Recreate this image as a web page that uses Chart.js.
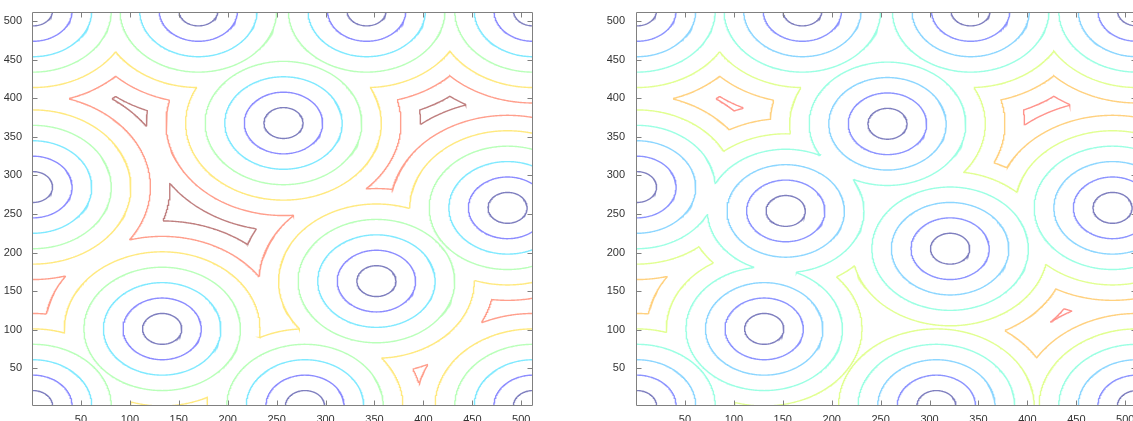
<!DOCTYPE html>
<html><head><meta charset="utf-8">
<script src="https://cdn.jsdelivr.net/npm/chart.js@4.4.1/dist/chart.umd.min.js"></script>
<style>
html,body{margin:0;padding:0;width:1133px;height:421px;overflow:hidden;background:#fff;}
#wrap{position:relative;width:1133px;height:421px;overflow:hidden;}
canvas{position:absolute;top:0;}
#c1{left:0;} #c2{left:600px;}
</style></head><body><div id="wrap"><canvas id="c1" width="540" height="421"></canvas><canvas id="c2" width="544" height="421"></canvas></div>
<script>
// ---- data ----
const xTicks = [50,100,150,200,250,300,350,400,450,500];
const yTicks = [50,100,150,200,250,300,350,400,450,500];
const contourLevels = [20,40,60,80,100,120,140];
// seed points (centres of the rings), left panel
const leftSeedX = [1,170,342,512,1,257,486,133,352,279,1,512];
const leftSeedY = [514,514,514,514,285,368,258,101,163,1,1,1];
// seed points, right panel
const rightSeedX = [1,170,342,512,1,257,487,131,153,321,307,1,512];
const rightSeedY = [514,514,514,514,285,367,258,101,254,205,1,1,1];

// ---- styles ----
const leftColors = ['rgba(0,0,128,0.5)','rgba(0,0,255,0.45)','rgba(0,212,255,0.5)','rgba(128,255,128,0.55)','rgba(255,212,0,0.5)','rgba(255,43,0,0.45)','rgba(128,0,0,0.5)'];
const rightColors = ['rgba(0,0,128,0.5)','rgba(0,18,255,0.45)','rgba(0,164,255,0.45)','rgba(55,255,200,0.5)','rgba(200,255,55,0.55)','rgba(255,164,0,0.5)','rgba(255,18,0,0.45)'];
const FONT = {family:'"Liberation Sans", Arial, Helvetica, sans-serif', size:11};

const N = 512;
function distanceField(sx, sy){
  const z = new Float32Array(N*N);
  for (let j=0;j<N;j++){
    const y=j+1;
    for (let i=0;i<N;i++){
      const x=i+1; let m=1e9;
      for (let k=0;k<sx.length;k++){
        const dx=x-sx[k], dy=y-sy[k]; const d=dx*dx+dy*dy; if(d<m)m=d;
      }
      z[j*N+i]=Math.sqrt(m);
    }
  }
  return z;
}
function contour(z, level){
  const segs=[]; const pts=new Map();
  const hK=(i,j)=>(j*N+i)*2, vK=(i,j)=>(j*N+i)*2+1;
  function pH(i,j){const k=hK(i,j); if(!pts.has(k)){const a=z[j*N+i],b=z[j*N+i+1];pts.set(k,[i+1+(level-a)/(b-a), j+1]);} return k;}
  function pV(i,j){const k=vK(i,j); if(!pts.has(k)){const a=z[j*N+i],b=z[(j+1)*N+i];pts.set(k,[i+1, j+1+(level-a)/(b-a)]);} return k;}
  for (let j=0;j<N-1;j++) for (let i=0;i<N-1;i++){
    const v0=z[j*N+i], v1=z[j*N+i+1], v2=z[(j+1)*N+i+1], v3=z[(j+1)*N+i];
    const c=(v0>level?1:0)|(v1>level?2:0)|(v2>level?4:0)|(v3>level?8:0);
    if(c===0||c===15) continue;
    const B=()=>pH(i,j), R=()=>pV(i+1,j), T=()=>pH(i,j+1), L=()=>pV(i,j);
    if(c===5||c===10){
      const ctr=(v0+v1+v2+v3)/4>level;
      if((c===5&&ctr)||(c===10&&!ctr)){segs.push([B(),R()]);segs.push([T(),L()]);}
      else {segs.push([L(),B()]);segs.push([T(),R()]);}
      continue;
    }
    const e=[];
    if(((c&1)>0)!==((c&2)>0)) e.push(B());
    if(((c&2)>0)!==((c&4)>0)) e.push(R());
    if(((c&4)>0)!==((c&8)>0)) e.push(T());
    if(((c&8)>0)!==((c&1)>0)) e.push(L());
    segs.push([e[0],e[1]]);
  }
  const adj=new Map();
  segs.forEach((s,idx)=>{for(const k of s){if(!adj.has(k))adj.set(k,[]);adj.get(k).push(idx);}});
  const used=new Uint8Array(segs.length); const out=[];
  function walk(start){const arr=[];let cur=start;for(;;){const l=adj.get(cur);let nx=-1;for(const n of l){if(!used[n]){nx=n;break;}}if(nx<0)break;used[nx]=1;const t=segs[nx];cur=t[0]===cur?t[1]:t[0];arr.push(cur);}return arr;}
  for(let s=0;s<segs.length;s++){
    if(used[s])continue; used[s]=1;
    const fw=walk(segs[s][1]); const bw=walk(segs[s][0]);
    const keys=bw.reverse().concat([segs[s][0],segs[s][1]],fw);
    out.push(keys.map(k=>pts.get(k)));
  }
  return out;
}
function buildData(sx, sy){
  const z=distanceField(sx, sy);
  return contourLevels.map(lv=>{
    const d=[];
    for(const line of contour(z, lv)){ for(const p of line) d.push({x:p[0],y:p[1]}); d.push({x:NaN,y:NaN}); }
    return d;
  });
}
const frame={id:'frame',afterDraw(chart){
  const {ctx,chartArea:a,scales:{x,y}}=chart;
  ctx.save(); ctx.strokeStyle='#808080'; ctx.lineWidth=1;
  const L=Math.round(a.left)-0.5, R=Math.round(a.right)-0.5, T=Math.round(a.top)+0.5, Bm=Math.round(a.bottom)-0.5;
  ctx.beginPath();
  ctx.moveTo(L,T);ctx.lineTo(R,T);ctx.lineTo(R,Bm);ctx.lineTo(L,Bm);ctx.closePath();
  for(const v of xTicks){const p=Math.round(x.getPixelForValue(v))+0.5; ctx.moveTo(p,Bm);ctx.lineTo(p,Bm-5);ctx.moveTo(p,T);ctx.lineTo(p,T+5);}
  for(const v of yTicks){const p=Math.round(y.getPixelForValue(v))+0.5; ctx.moveTo(L,p);ctx.lineTo(L+5,p);ctx.moveTo(R,p);ctx.lineTo(R-5,p);}
  ctx.stroke(); ctx.restore();
}};
function makeChart(id, sx, sy, colors, yAxisWidth, yPad){
  const data=buildData(sx, sy);
  return new Chart(document.getElementById(id),{
    type:'scatter',
    data:{datasets:contourLevels.map((lv,k)=>({label:String(lv),data:data[k],showLine:true,borderColor:colors[k],borderWidth:1.4,pointRadius:0,pointHoverRadius:0,fill:false,tension:0,spanGaps:false}))},
    options:{responsive:false,animation:false,events:[],devicePixelRatio:1,
      layout:{padding:{top:12,right:7,left:0,bottom:0}},
      plugins:{legend:{display:false},tooltip:{enabled:false}},
      scales:{
        x:{type:'linear',min:1,max:512,grid:{display:false},border:{display:false},
          afterBuildTicks:s=>{s.ticks=xTicks.map(v=>({value:v}));},
          afterFit:s=>{s.height=15;},
          ticks:{padding:-1,maxRotation:0,autoSkip:false,font:FONT,color:'#333'}},
        y:{type:'linear',min:1,max:512,grid:{display:false},border:{display:false},
          afterBuildTicks:s=>{s.ticks=yTicks.map(v=>({value:v}));},
          afterFit:s=>{s.width=yAxisWidth;},
          ticks:{padding:yPad,autoSkip:false,font:FONT,color:'#333'}}
      }},
    plugins:[frame]
  });
}
makeChart('c1', leftSeedX, leftSeedY, leftColors, 33, 3);
makeChart('c2', rightSeedX, rightSeedY, rightColors, 37, 4);
</script></body></html>
